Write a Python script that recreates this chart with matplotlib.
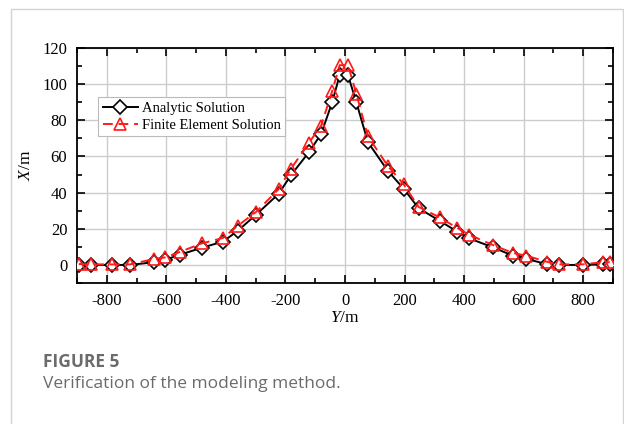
import numpy as np
import matplotlib
matplotlib.use("Agg")
import matplotlib.pyplot as plt
from matplotlib.patches import Rectangle
from matplotlib.ticker import MultipleLocator

# Values
y_pos = [-894, -853, -783, -722, -642, -603, -553, -481, -410, -360, -298, -223,
         -181, -121, -80, -43, -18, 10, 38, 77, 144, 197, 247, 318, 377, 417,
         497, 564, 609, 677, 717, 798, 865, 889]
x_analytic = [0, 0, 0, 0, 1.5, 2.9, 5.7, 9.5, 12.9, 18.9, 27.9, 39.3, 49.8, 62.4,
              72.5, 90, 105, 105, 90, 67.9, 52, 42.2, 31.4, 24.4, 18.4, 14.7,
              9.7, 5.1, 3.3, 0.5, 0, 0, 0.3, 0.3]
x_fem = [0.5, 0.3, 0.3, 0.3, 3.3, 4.2, 7.3, 11.9, 14.9, 21.7, 29.4, 41.9, 53.3,
         67.6, 77.1, 96.2, 110.5, 110.5, 94.7, 71.1, 54.7, 44.6, 32.1, 26.3,
         20.4, 16.7, 11, 6.6, 5.1, 1.8, 0.3, 0.3, 1.5, 1.5]

SERIF = "Liberation Serif"
plt.rcParams["mathtext.fontset"] = "custom"
plt.rcParams["mathtext.rm"] = SERIF
plt.rcParams["mathtext.it"] = SERIF + ":italic"
plt.rcParams["axes.unicode_minus"] = False

fig = plt.figure(figsize=(6.24, 4.24), dpi=100)
ax = fig.add_axes([0.1234, 0.3325, 0.859, 0.5543])

# light frame round the whole figure panel
fig.patches.append(Rectangle((11 / 624, -0.05), 612 / 624, 1.05 - 9 / 424,
                             transform=fig.transFigure, fill=False,
                             edgecolor="#d4d4d4", linewidth=1.0))

ax.plot(y_pos, x_analytic, color="black", linewidth=1.4, marker="D",
        markersize=7.5, markerfacecolor="white", markeredgecolor="black",
        markeredgewidth=1.2, label="Analytic Solution", zorder=3)
ax.plot(y_pos, x_fem, color="#ff1a1a", linewidth=1.4, linestyle=(0, (5, 3)),
        marker="^", markersize=9, markerfacecolor="none",
        markeredgecolor="#ff1a1a", markeredgewidth=1.2,
        label="Finite Element Solution", zorder=4)

ax.set_xlim(-900, 900)
ax.set_ylim(-10, 120)
ax.xaxis.set_major_locator(MultipleLocator(200))
ax.xaxis.set_minor_locator(MultipleLocator(100))
ax.yaxis.set_major_locator(MultipleLocator(20))
ax.yaxis.set_minor_locator(MultipleLocator(10))
ax.grid(True, which="major", color="#cccccc", linewidth=1.0, zorder=0)
ax.set_axisbelow(True)

ax.tick_params(axis="both", which="major", direction="in", length=6, width=1.2,
               top=True, right=True, labelsize=12, pad=7)
ax.tick_params(axis="both", which="minor", direction="in", length=3.5, width=1.2,
               top=True, right=True)
for lab in ax.get_xticklabels() + ax.get_yticklabels():
    lab.set_fontfamily(SERIF)
for sp in ax.spines.values():
    sp.set_linewidth(1.3)

ax.set_xlabel("$\\mathit{Y}$/m", fontsize=12.5, family=SERIF, labelpad=1)
ax.set_ylabel("$\\mathit{X}$/m", fontsize=12.5, family=SERIF, labelpad=6)

leg = ax.legend(loc="upper left", bbox_to_anchor=(0.04, 0.79),
                prop={"family": SERIF, "size": 10.5}, frameon=True,
                fancybox=False, edgecolor="#bbbbbb", framealpha=1,
                borderpad=0.3, handlelength=2.4, handletextpad=0.3,
                labelspacing=0.25, borderaxespad=0)
leg.get_frame().set_linewidth(0.8)

fig.text(43 / 624, 1 - 362 / 424, "FIGURE 5", fontsize=12.5, fontweight="bold",
         family="Open Sans", color="#6b6b6b", va="center", ha="left")
fig.text(43 / 624, 1 - 384 / 424, "Verification of the modeling method.",
         fontsize=12.5, family="Open Sans", color="#6b6b6b", va="center",
         ha="left")

fig.savefig("out.png", dpi=100)
